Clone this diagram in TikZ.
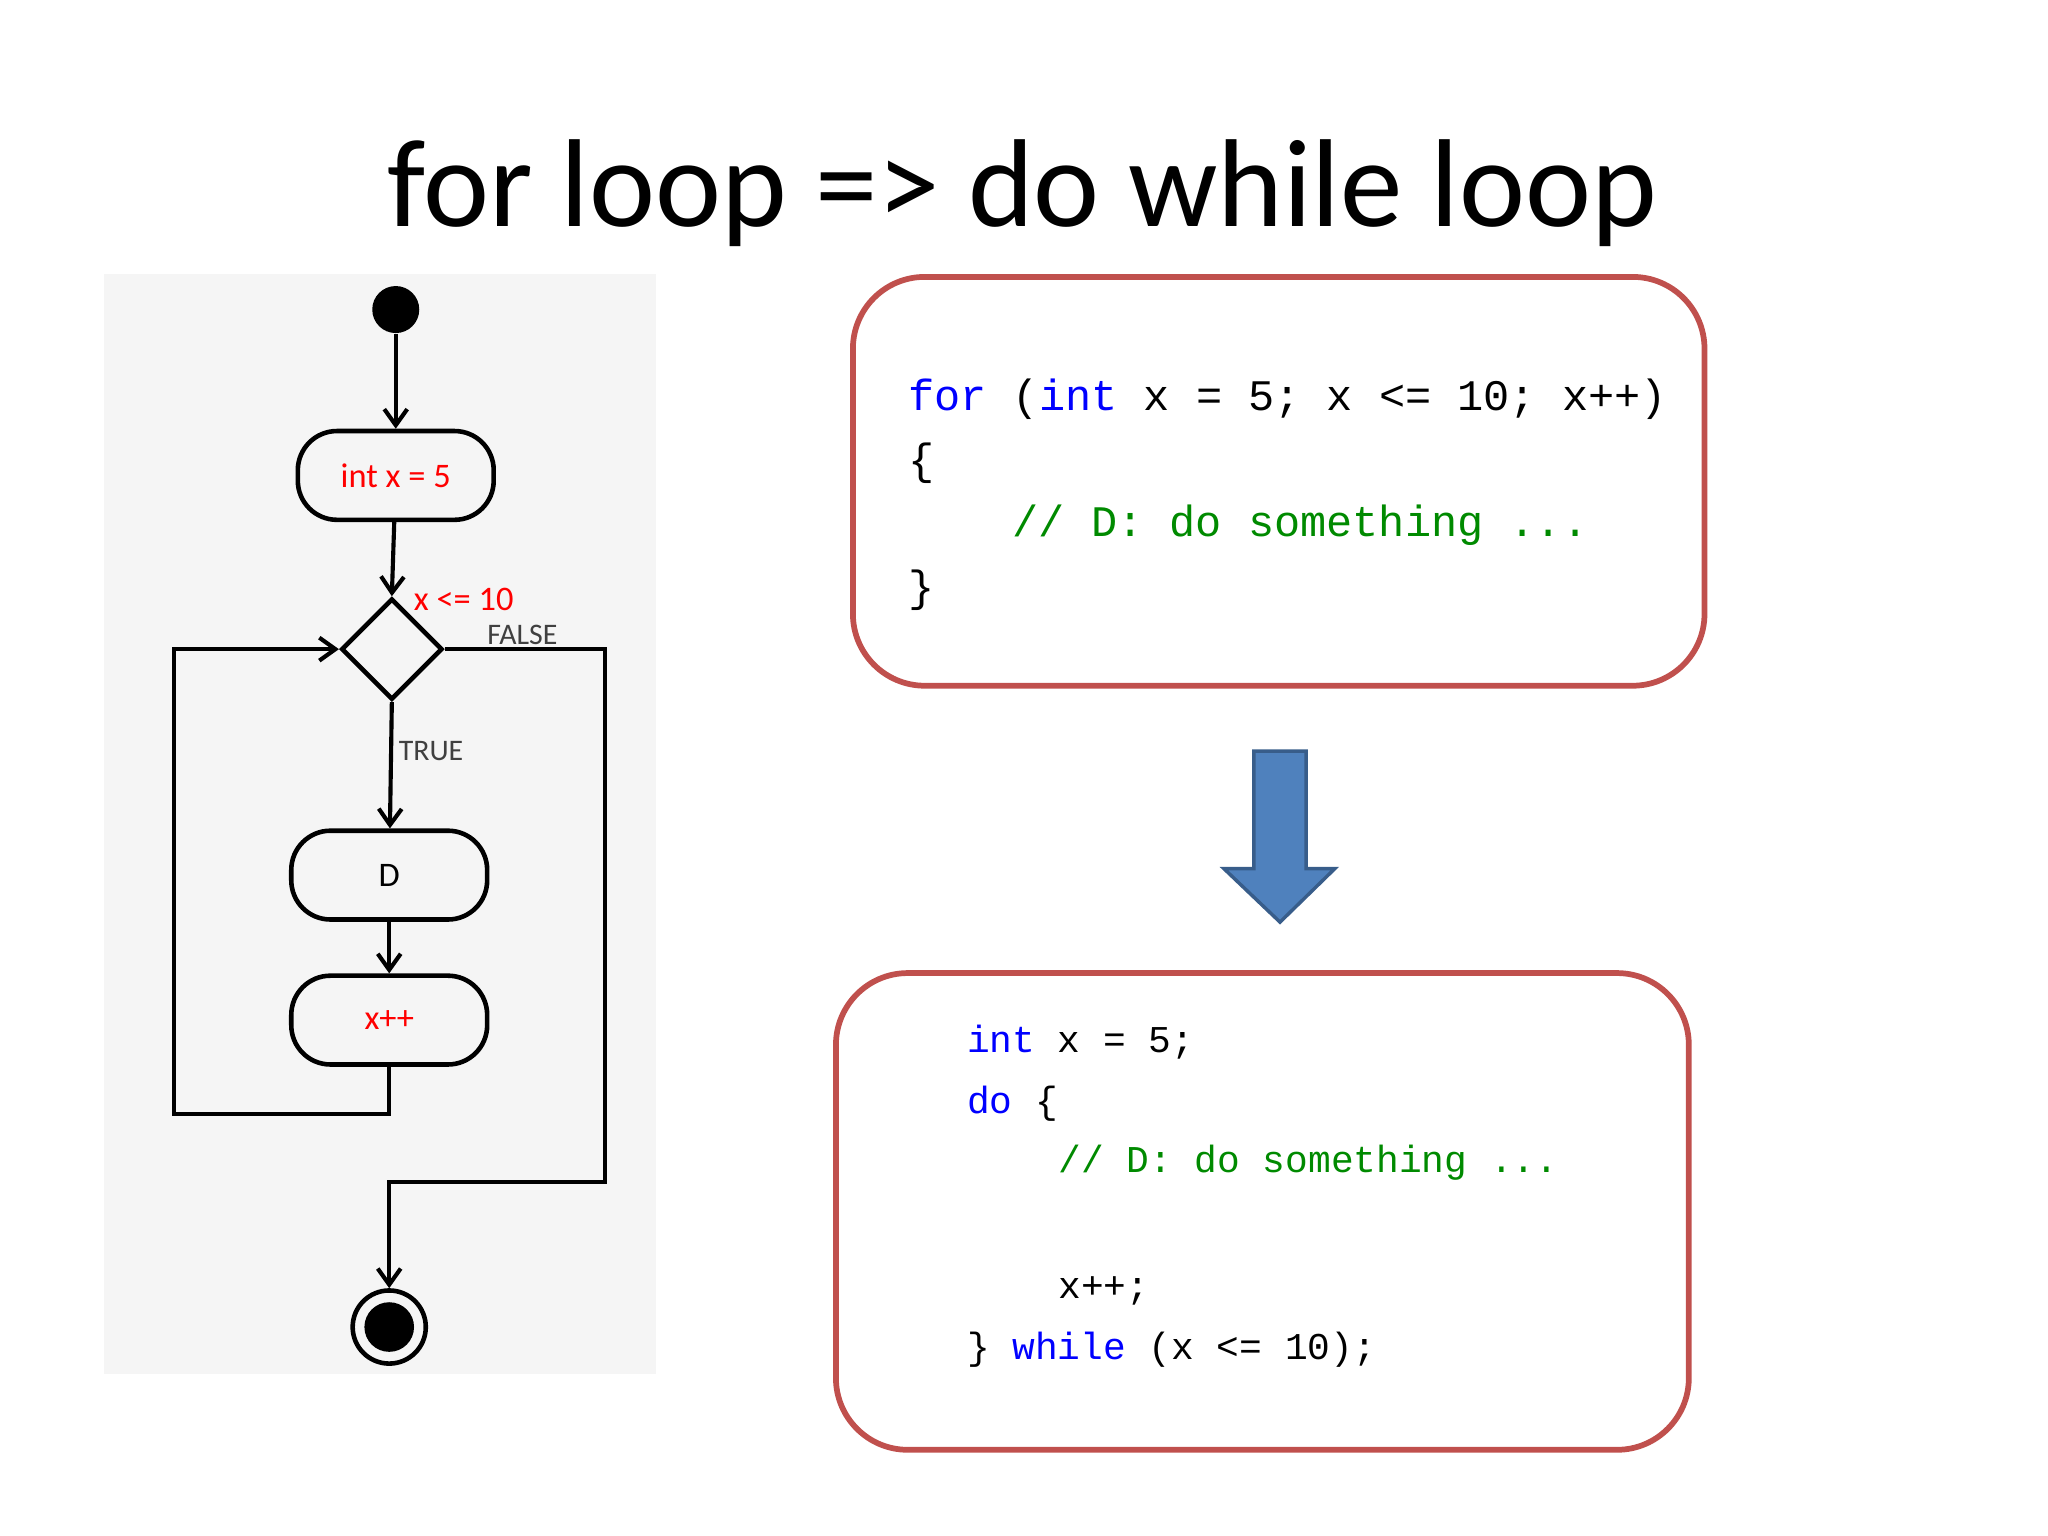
\documentclass[tikz,border=0pt]{standalone}
\usepackage{fontspec}
\setmainfont{Carlito}
\newfontfamily\codefont{Liberation Mono}
\usetikzlibrary{arrows.meta,shapes.geometric}
\definecolor{boxred}{HTML}{C0504D}
\definecolor{kw}{HTML}{0000FF}
\definecolor{cm}{HTML}{008A00}
\definecolor{arrfill}{HTML}{4F81BD}
\definecolor{arrline}{HTML}{385D8A}
\begin{document}
\begin{tikzpicture}[x=0.02cm,y=-0.02cm,
  act/.style={draw,line width=2pt,rounded corners=0.6cm,minimum width=3cm,minimum height=1.36cm,font=\fontsize{15}{17}\selectfont},
  flow/.style={line width=1.8pt,-{Straight Barb[length=7pt,width=10pt]}},
  codebox/.style={draw=boxred,line width=2.5pt,rounded corners=1.1cm},
  code/.style={anchor=west,font=\codefont\fontsize{19}{22}\selectfont,inner sep=0pt},
  codeb/.style={anchor=west,font=\codefont\fontsize{16.5}{20}\selectfont,inner sep=0pt}]
\useasboundingbox (0,0) rectangle (1568,1176);
\node at (783,148) {\fontsize{54.5}{60}\selectfont for loop => do while loop};
% flowchart background
\fill[black!4] (80,210) rectangle (502,1052);
\node[circle,fill=black,minimum size=0.72cm,inner sep=0] (start) at (303,237) {};
\node[act,text=red] (init) at (303,364) {int x = 5};
\node[diamond,draw,line width=2pt,minimum size=1.55cm,inner sep=0] (dec) at (300,497) {};
\node[act] (d) at (298,670) {D};
\node[act,text=red] (inc) at (298,781) {x++};
\node[circle,draw,line width=2pt,minimum size=1.12cm,inner sep=0] (end) at (298,1016) {};
\node[circle,fill=black,minimum size=0.76cm,inner sep=0] at (end) {};
\draw[flow] (start) -- (init);
\draw[flow] (init) -- (dec.north);
\draw[flow] (dec.south) -- (d);
\draw[flow] (d) -- (inc);
\coordinate (l1) at (298,853); \coordinate (l2) at (133,853); \coordinate (l3) at (133,497);
\draw[flow] (inc.south) -- (l1) -- (l2) -- (l3) -- (dec.west);
\coordinate (f1) at (463,497); \coordinate (f2) at (463,905); \coordinate (f3) at (298,905);
\draw[flow] (dec.east) -- (f1) -- (f2) -- (f3) -- (end.north);
\node[text=red,font=\fontsize{15}{17}\selectfont] (lc) at (355,459) {x <= 10};
\node[text=black!75,font=\fontsize{13}{15}\selectfont] (lf) at (400,486) {FALSE};
\node[text=black!75,font=\fontsize{13}{15}\selectfont] (lt) at (330,575) {TRUE};
% code boxes
\draw[codebox] (653,212) rectangle (1305,525);
\node[code] (c1) at (695,306) {\textcolor{kw}{for} (\textcolor{kw}{int} x = 5; x <= 10; x++)};
\node[code] (c2) at (695,355) {\{};
\node[code,text=cm] (c3) at (775,402) {// D: do something ...};
\node[code] (c4) at (695,452) {\}};
\draw[codebox] (640,745) rectangle (1293,1110);
\node[codeb] (e1) at (740,798) {\textcolor{kw}{int} x = 5;};
\node[codeb] (e2) at (740,845) {\textcolor{kw}{do} \{};
\node[codeb,text=cm] (e3) at (810,890) {// D: do something ...};
\node[codeb] (e4) at (810,988) {x++;};
\node[codeb] (e5) at (740,1033) {\} \textcolor{kw}{while} (x <= 10);};
% block arrow
\draw[fill=arrfill,draw=arrline,line width=1.5pt] (960,575) -- (1000,575) -- (1000,665) -- (1022,665) -- (980,706) -- (937,665) -- (960,665) -- cycle;
\end{tikzpicture}
\end{document}
